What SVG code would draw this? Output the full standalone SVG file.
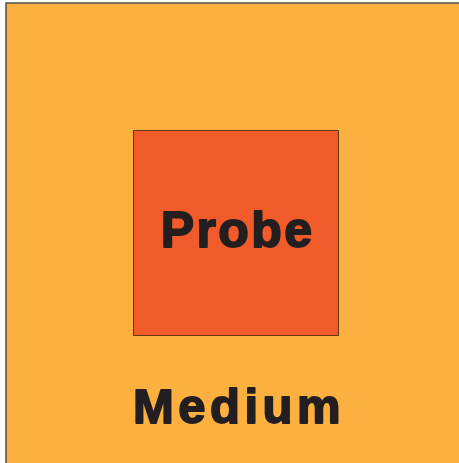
<svg xmlns="http://www.w3.org/2000/svg" width="459" height="463" viewBox="0 0 459 463">
<style>
.lbl{font-family:"Liberation Sans",Arial,sans-serif;font-weight:bold;fill:#231F20;stroke:#231F20;stroke-width:1.8;stroke-linejoin:round;text-anchor:middle}
</style>
<rect width="459" height="463" fill="#ffffff"/>
<g id="medium">
<rect x="6" y="3" width="460" height="470" fill="#FBB040" stroke="#4D4D4D" stroke-width="1.5"/>
<text class="lbl" x="239" y="422.5" font-size="49" letter-spacing="4.5">Medium</text>
</g>
<g id="probe">
<rect x="133.5" y="130.5" width="205" height="205" fill="#F15A29" stroke="#603913" stroke-width="1"/>
<text class="lbl" x="237.5" y="246.5" font-size="50" letter-spacing="2.4">Probe</text>
</g>
<g id="connectors"></g>
</svg>
